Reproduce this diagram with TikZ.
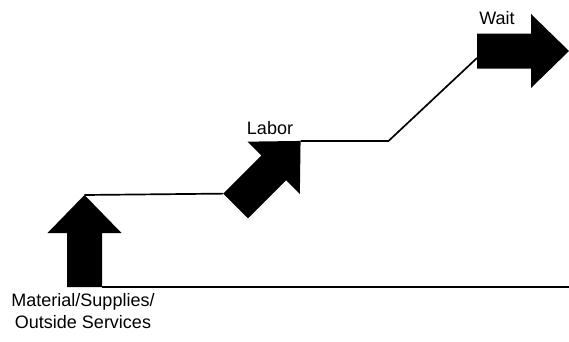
\documentclass[tikz,border=0pt]{standalone}
\usepackage{fontspec}
\setmainfont{Liberation Sans}
\usetikzlibrary{positioning,calc}

\begin{document}
\begin{tikzpicture}[x=1pt, y=1pt,
  font=\fontsize{18}{22}\selectfont,
  lbl/.style={inner sep=0pt, align=center},
  link/.style={draw=black, line width=1.7pt},
  bigarrow/.pic={
    \fill[black] (0,-17.5) -- (54,-17.5) -- (54,-37) -- (92,0) -- (54,37) -- (54,17.5) -- (0,17.5) -- cycle;
    \coordinate (-left) at (0,17.5);
    \coordinate (-right) at (0,-17.5);
    \coordinate (-tip) at (92,0);
  }
]
\useasboundingbox (0,0) rectangle (569,341);

% the three cost arrows
\pic[rotate=90] (up) at (84.5,54) {bigarrow};
\pic[rotate=45] (labor) at (235.5,135) {bigarrow};
\pic (wait) at (477,290) {bigarrow};

\node[lbl] (upl)    at (83,30)   {Material/Supplies/\\Outside Services};
\node[lbl] (laborl) at (270,213) {Labor};
\node[lbl] (waitl)  at (497,323) {Wait};

\coordinate (edge) at (569,54);
\draw[link] (up-tip) -- (labor-left);
\draw[link] (up-right) -- (edge);
\draw[link] (labor-tip) -- ++(88,0) coordinate (bend) -- ($(wait-left)!0.7!(wait-right)$);
\end{tikzpicture}
\end{document}
